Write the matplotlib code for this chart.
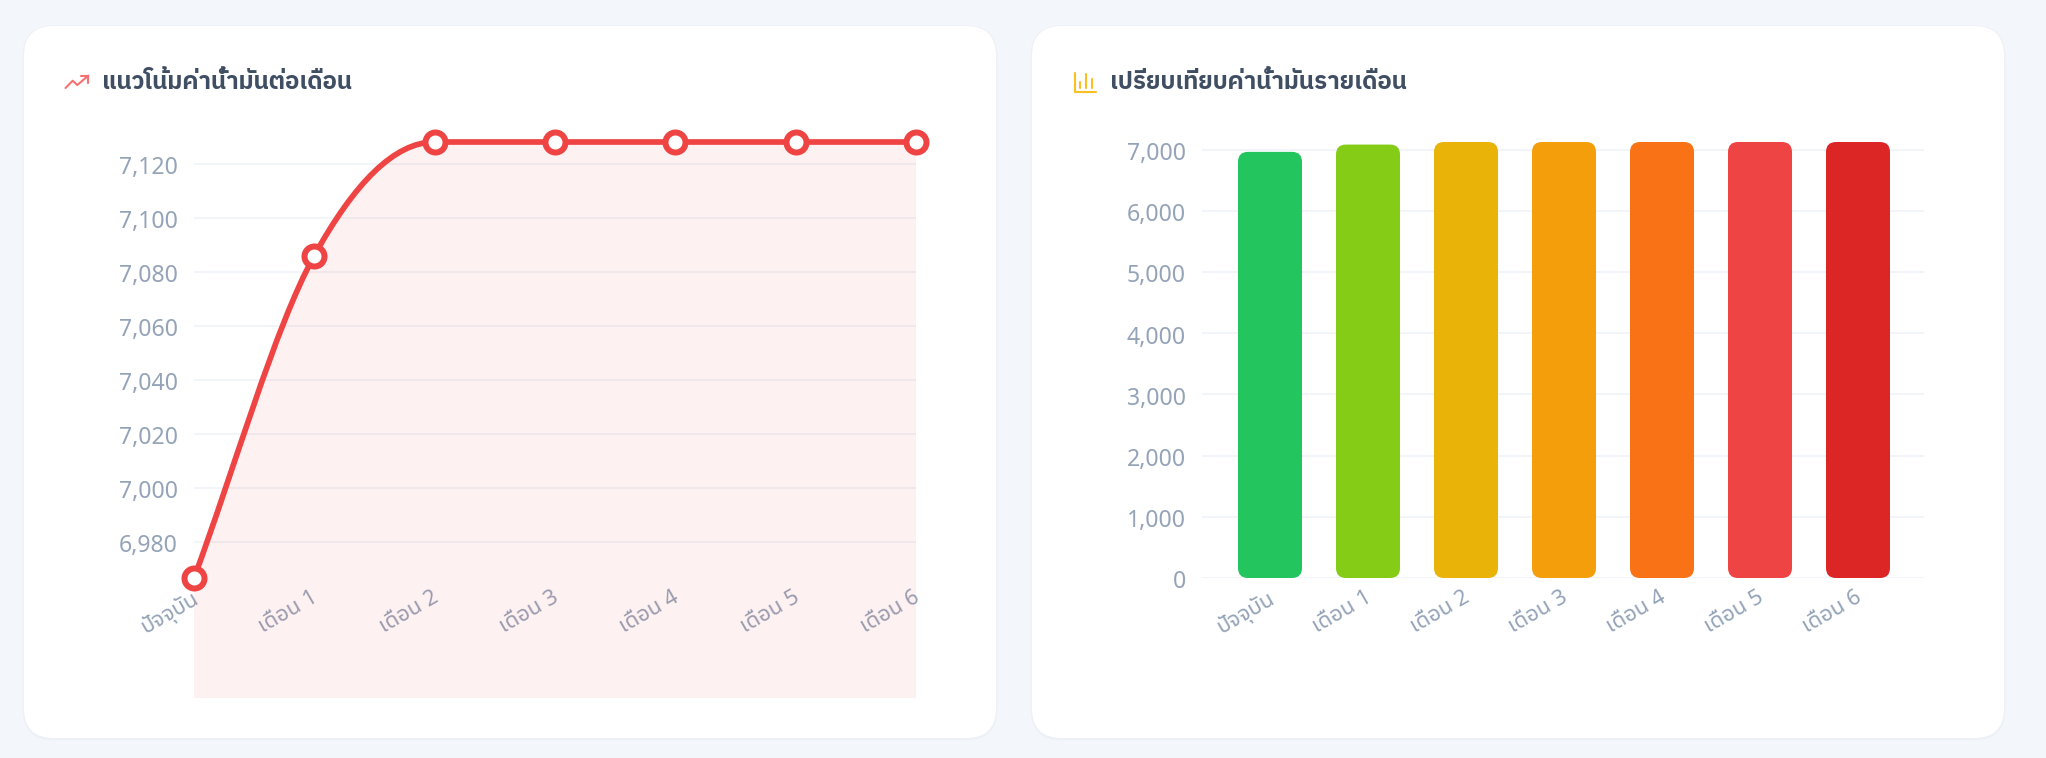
import numpy as np
import matplotlib
matplotlib.use('Agg')
import matplotlib.pyplot as plt
from matplotlib.lines import Line2D
from matplotlib.patches import FancyBboxPatch, PathPatch
from matplotlib.path import Path
from matplotlib.ticker import FuncFormatter
from matplotlib.transforms import Affine2D

W, H = 2046, 758
categories = ['ปัจจุบัน', 'เดือน 1', 'เดือน 2', 'เดือน 3', 'เดือน 4', 'เดือน 5', 'เดือน 6']
fuel_cost = [6966.7, 7086, 7128, 7128, 7128, 7128, 7128]
bar_colors = ['#22c55e', '#84cc16', '#eab308', '#f59e0b', '#f97316', '#ef4444', '#dc2626']
line_ticks = [6980, 7000, 7020, 7040, 7060, 7080, 7100, 7120]
bar_ticks = [0, 1000, 2000, 3000, 4000, 5000, 6000, 7000]
title_left = 'แนวโน้มค่าน้ำมันต่อเดือน'
title_right = 'เปรียบเทียบค่าน้ำมันรายเดือน'

BG = '#f3f6fa'
GRID = '#f1f5f9'
TICK = '#94a3b8'
TITLE = '#3f4e63'
RED = '#ef4444'
TICK_FONT = ['Noto Sans Thai']
TITLE_FONT = ['IBM Plex Sans Thai']
FILL_FLOOR = 6922.3   # chart fill runs below the axis, to the bottom of the canvas

fig = plt.figure(figsize=(W / 100, H / 100), dpi=100, facecolor=BG)
PT = 72 / 100
pixel_tf = Affine2D().scale(1, -1).translate(0, H)


def fx(x):
    return x / W


def fy(y):
    return 1 - y / H


def axes_px(x0, y0, x1, y1):
    return fig.add_axes([fx(x0), fy(y1), (x1 - x0) / W, (y1 - y0) / H])


def card(x0, y0, x1, y1):
    r = 30
    grow, dy = 1.5, 0.8
    fig.add_artist(FancyBboxPatch((x0 - grow, y0 - grow + dy), x1 - x0 + 2 * grow, y1 - y0 + 2 * grow,
                                  boxstyle=f'round,pad=0,rounding_size={r + grow}',
                                  transform=pixel_tf, fc='#edf1f6', ec='none', zorder=-3))
    fig.add_artist(FancyBboxPatch((x0, y0), x1 - x0, y1 - y0,
                                  boxstyle=f'round,pad=0,rounding_size={r}',
                                  transform=pixel_tf, fc='white', ec='none', zorder=-2))


card(24, 26, 996, 738)
card(1032, 26, 2004, 738)


def icon_line(xs, ys, color):
    fig.add_artist(Line2D(xs, ys, transform=pixel_tf, color=color, lw=2.1 * PT,
                          solid_capstyle='round', solid_joinstyle='round', zorder=5))


# trending-up icon
icon_line([65.5, 72.7, 77.3, 88.3], [88, 80.7, 85, 75.7], '#f87171')
icon_line([80.7, 88.3, 88.3], [75.7, 75.7, 83], '#f87171')
# bar-chart icon
icon_line([1074.5, 1074.5, 1095.5], [72.5, 91.5, 91.5], '#fbbf24')
icon_line([1080.2, 1080.2], [82, 88], '#fbbf24')
icon_line([1086, 1086], [74, 88], '#fbbf24')
icon_line([1092, 1092], [78.5, 88], '#fbbf24')

fig.text(fx(102), fy(89), title_left, family=TITLE_FONT, weight=700, fontsize=17.3, color=TITLE, va='baseline')
fig.text(fx(1110), fy(89), title_right, family=TITLE_FONT, weight=700, fontsize=17.3, color=TITLE, va='baseline')


def style_axes(ax):
    for s in ax.spines.values():
        s.set_visible(False)
    ax.set_facecolor('none')
    ax.tick_params(axis='both', length=0, labelcolor=TICK)
    ax.tick_params(axis='y', pad=16 * PT)
    ax.tick_params(axis='x', pad=9 * PT)
    ax.yaxis.set_major_formatter(FuncFormatter(lambda v, _: f'{v:,.0f}'))
    ax.set_axisbelow(True)
    ax.grid(axis='y', color=GRID, lw=2 * PT)
    ax.grid(axis='x', visible=False)


def style_labels(ax):
    nudge_y = Affine2D().translate(0, -1.3)
    nudge_x = Affine2D().translate(-3, 0)
    for t in ax.get_yticklabels():
        t.set_family(TICK_FONT)
        t.set_fontsize(16.6)
        t.set_transform(t.get_transform() + nudge_y)
    for t in ax.get_xticklabels():
        t.set_family(TICK_FONT)
        t.set_fontsize(15.8)
        t.set_rotation(30)
        t.set_rotation_mode('anchor')
        t.set_ha('right')
        t.set_va('top')
        t.set_transform(t.get_transform() + nudge_x)


# ---------- line chart ----------
ax1 = axes_px(194, 142, 916, 578)
style_axes(ax1)
xs = np.arange(len(categories))
ax1.set_xlim(0, len(categories) - 1)
ax1.set_ylim(min(fuel_cost), max(fuel_cost))
ax1.set_yticks(line_ticks)
ax1.set_xticks(xs, categories)
style_labels(ax1)

# monotone cubic segments worked out in screen space from the data points
pts = ax1.transData.transform(np.column_stack([xs, fuel_cost]))
n = len(pts)
dx = np.diff(pts[:, 0])
sec = np.diff(pts[:, 1]) / dx
tan = np.zeros(n)
tan[0], tan[-1] = sec[0], sec[-1]
tan[1:-1] = (sec[:-1] + sec[1:]) / 2
for i in range(n - 1):
    if abs(sec[i]) < 1e-9:
        tan[i] = tan[i + 1] = 0
verts = [pts[0]]
codes = [Path.MOVETO]
for i in range(n - 1):
    h = dx[i] / 3
    verts += [pts[i] + [h, h * tan[i]], pts[i + 1] - [h, h * tan[i + 1]], pts[i + 1]]
    codes += [Path.CURVE4] * 3
curve = ax1.transData.inverted().transform(np.array(verts))

fill_verts = np.vstack([curve, [[xs[-1], FILL_FLOOR], [xs[0], FILL_FLOOR], curve[0]]])
fill_codes = codes + [Path.LINETO, Path.LINETO, Path.CLOSEPOLY]
ax1.add_patch(PathPatch(Path(fill_verts, fill_codes), fc=RED, alpha=0.075, ec='none', clip_on=False, zorder=2))
ax1.add_patch(PathPatch(Path(curve, codes), fc='none', ec=RED, lw=5.7 * PT, clip_on=False, zorder=3,
                        capstyle='round'))
ax1.plot(xs, fuel_cost, ls='none', marker='o', ms=20 * PT, mfc='white', mec=RED, mew=6 * PT,
         clip_on=False, zorder=4)

# ---------- bar chart ----------
ax2 = axes_px(1202, 142, 1924, 578)
style_axes(ax2)
STEP = 98
ax2.set_xlim(-68 / STEP, len(categories) - 1 + 66 / STEP)
ax2.set_ylim(0, max(fuel_cost))
ax2.set_yticks(bar_ticks)
ax2.set_xticks(xs, categories)
style_labels(ax2)

bar_w = 64 / STEP
radius_px = 10
px_per_val = 436 / max(fuel_cost)
r_x = radius_px / STEP
r_y = radius_px / px_per_val
for x, v, c in zip(xs, fuel_cost, bar_colors):
    ax2.add_patch(FancyBboxPatch((x - bar_w / 2, 0), bar_w, v,
                                 boxstyle=f'round,pad=0,rounding_size={r_x}',
                                 mutation_aspect=r_y / r_x, fc=c, ec='none', clip_on=False, zorder=3))

fig.savefig('out.png', dpi=100, facecolor=BG)
